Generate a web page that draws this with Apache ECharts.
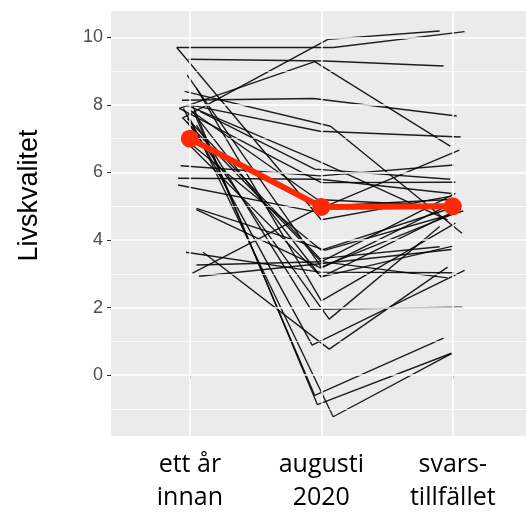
<!DOCTYPE html>
<html>
<head>
<meta charset="utf-8">
<script src="https://cdn.jsdelivr.net/npm/echarts@6/dist/echarts.min.js"></script>
<style>html,body{margin:0;padding:0;background:#fff}#c{width:526px;height:516px}</style>
</head>
<body>
<div id="c"></div>
<script>
// Categories (time points)
var categories = ['ett år\ninnan', 'augusti\n2020', 'svars-\ntillfället'];
// Per-participant values at the three time points
var ettArInnan   = [9.7, 9.7, 9.35, 7.6, 7.9, 8.14, 8.4, 8.0, 8.88, 7.9, 7.8, 7.6, 7.5, 6.2, 5.63, 5.83, 4.94, 4.9, 3.64, 3.64, 3.26, 3.02, 2.93, 7.7, 8.0, 7.6, 7.9, 8.5, 7.4, 6.8, 7.0, 7.85, 8.0, 7.6, 7.8];
var augusti2020  = [9.7, 4.6, 9.3, 9.94, 9.28, 8.19, 7.37, 7.22, 3.2, 5.7, 2.9, 3.36, 1.66, 5.9, 4.85, 5.8, 3.7, 3.17, 3.05, 0.77, 3.36, 5.0, 3.3, -0.6, -0.87, -1.23, 0.89, 2.2, 1.95, 2.91, 3.7, 5.2, 6.3, 3.45, 6.1];
var svarstillfallet = [10.17, 5.3, 9.15, 10.19, 6.78, 7.67, 4.2, 7.05, 4.8, 5.71, 4.9, 5.38, 4.4, 6.22, 6.66, 5.38, 4.86, 5.0, 3.03, 3.2, 2.88, 5.2, 3.72, 1.1, 0.65, 0.64, 3.1, 4.5, 2.01, 3.82, 4.95, 5.0, 4.6, 3.8, 5.8];
// Horizontal jitter (in category units)
var jitterEtt = [-0.10, -0.10, -0.01, -0.06, -0.08, -0.06, -0.04, 0.00, -0.02, -0.08, 0.02, -0.05, -0.02, -0.07, -0.09, -0.09, 0.05, 0.05, -0.03, 0.10, 0.05, 0.02, 0.07, 0.04, 0.02, 0.00, -0.05, 0.05, 0.05, 0.00, -0.04, 0.00, -0.03, -0.02, 0.08];
var jitterAug = [0.09, 0.00, 0.03, 0.05, -0.05, -0.06, 0.07, -0.01, 0.00, 0.00, 0.00, 0.00, 0.06, -0.01, -0.06, -0.01, 0.03, 0.00, -0.01, 0.06, 0.00, 0.00, -0.01, -0.05, -0.03, 0.09, -0.07, 0.00, -0.08, 0.00, 0.00, -0.03, 0.00, -0.01, -0.05];
var jitterSvar = [0.09, -0.01, -0.07, -0.10, -0.02, 0.03, 0.07, 0.06, 0.02, 0.02, 0.04, 0.02, -0.10, 0.01, 0.05, -0.01, 0.08, -0.05, 0.01, -0.04, -0.04, -0.02, -0.01, -0.07, -0.01, -0.01, 0.09, 0.02, 0.07, 0.00, -0.01, -0.02, -0.04, -0.10, -0.02];
// Mean line
var meanValues = [7.0, 4.98, 5.0];
// Axis ticks
var yTicks = [0, 2, 4, 6, 8, 10];
var yMinor = [-1, 1, 3, 5, 7, 9];

var series = [];
// Grid lines drawn as markLines on a hidden helper series (ggplot style)
var gridLines = [];
yTicks.forEach(function (v) { gridLines.push({ yAxis: v, lineStyle: { color: '#ffffff', width: 1.5, type: 'solid' } }); });
yMinor.forEach(function (v) { gridLines.push({ yAxis: v, lineStyle: { color: '#ffffff', width: 0.7, type: 'solid' } }); });
[1, 2, 3].forEach(function (v) { gridLines.push({ xAxis: v, lineStyle: { color: '#ffffff', width: 1.5, type: 'solid' } }); });
series.push({
  type: 'line', z: 1, data: [[2, 5]], symbol: 'none', lineStyle: { opacity: 0 }, silent: true,
  markLine: { silent: true, symbol: 'none', label: { show: false }, animation: false, data: gridLines }
});

for (var i = 0; i < ettArInnan.length; i++) {
  series.push({
    type: 'line', z: 3, symbol: 'none', silent: true,
    lineStyle: { color: 'rgba(0,0,0,0.88)', width: 1.4 },
    data: [[1 + jitterEtt[i], ettArInnan[i]], [2 + jitterAug[i], augusti2020[i]], [3 + jitterSvar[i], svarstillfallet[i]]]
  });
}
series.push({
  type: 'line', z: 5, symbol: 'circle', symbolSize: 18,
  itemStyle: { color: '#fb2a05' },
  lineStyle: { color: '#fb2a05', width: 6 },
  data: meanValues.map(function (v, k) { return [k + 1, v]; })
});

var chart = echarts.init(document.getElementById('c'), null, { renderer: 'canvas' });
chart.setOption({
  animation: false,
  grid: { left: 111, right: 0, top: 11, bottom: 80, show: true, backgroundColor: '#ebebeb', borderWidth: 0 },
  xAxis: {
    type: 'value', min: 0.4, max: 3.557,
    axisLine: { show: false },
    splitLine: { show: false },
    axisTick: { show: true, customValues: [1, 2, 3], length: 4, lineStyle: { color: '#333333', width: 1 } },
    axisLabel: {
      customValues: [1, 2, 3],
      formatter: function (v) { return categories[Math.round(v) - 1] || ''; },
      color: '#000000', fontFamily: 'Open Sans', fontSize: 25, lineHeight: 33, margin: 12
    }
  },
  yAxis: {
    type: 'value', min: -1.8, max: 10.78,
    name: 'Livskvalitet', nameLocation: 'middle', nameGap: 68, nameRotate: 90,
    nameTextStyle: { color: '#000000', fontFamily: 'Liberation Sans', fontSize: 27, padding: [0, 0, 0, 56] },
    axisLine: { show: false },
    splitLine: { show: false },
    axisTick: { show: true, customValues: yTicks, length: 4, lineStyle: { color: '#333333', width: 1 } },
    axisLabel: { customValues: yTicks, color: '#4d4d4d', fontFamily: 'Liberation Sans', fontSize: 18, margin: 8 }
  },
  series: series
});
</script>
</body>
</html>
